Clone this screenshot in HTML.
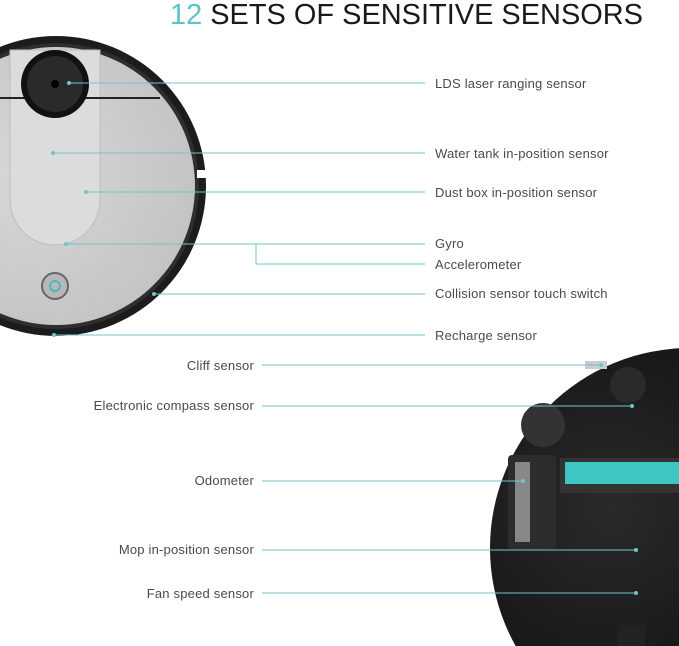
<!DOCTYPE html>
<html><head><meta charset="utf-8"><style>
html,body{margin:0;padding:0;background:#fff;width:679px;height:646px;overflow:hidden;}
svg{display:block;overflow:hidden}
text{font-family:"Liberation Sans",sans-serif;}
</style></head><body>
<svg width="679" height="646" viewBox="0 0 679 646" xmlns="http://www.w3.org/2000/svg">
<defs>
<radialGradient id="g1" cx="0.4" cy="0.45" r="0.6"><stop offset="0" stop-color="#d8d8d8"/><stop offset="1" stop-color="#c4c4c4"/></radialGradient>
<radialGradient id="g2" cx="0.3" cy="0.4" r="0.7"><stop offset="0" stop-color="#2a2a2a"/><stop offset="1" stop-color="#0c0c0c"/></radialGradient>
<clipPath id="c"><rect x="0" y="0" width="679" height="646"/></clipPath>
</defs>
<g clip-path="url(#c)">
<text x="170" y="24" font-size="29" textLength="473" lengthAdjust="spacingAndGlyphs" fill="#1a1a1a"><tspan fill="#5cc4c8">12</tspan> SETS OF SENSITIVE SENSORS</text>

<circle cx="56" cy="186" r="150" fill="#1c1c1c"/>
<circle cx="56" cy="186" r="143" fill="#2e2e2e"/>
<circle cx="56" cy="186" r="139" fill="url(#g1)"/>
<path d="M10 50 L100 50 L100 200 A45 45 0 0 1 10 200 Z" fill="#dcdcdc" stroke="#bdbdbd"/>
<line x1="0" y1="98" x2="160" y2="98" stroke="#222" stroke-width="2"/>
<circle cx="55" cy="84" r="34" fill="#111"/>
<circle cx="55" cy="84" r="28" fill="#2a2a2a"/>
<circle cx="55" cy="84" r="4" fill="#000"/>
<circle cx="55" cy="286" r="13" fill="#b8b8b8" stroke="#666" stroke-width="2"/>
<circle cx="55" cy="286" r="5" fill="none" stroke="#4ab8bc" stroke-width="2"/>
<rect x="197" y="170" width="12" height="8" fill="#fff"/>

<circle cx="690" cy="548" r="200" fill="url(#g2)"/>
<rect x="560" y="458" width="119" height="35" fill="#333"/>
<rect x="565" y="462" width="114" height="22" fill="#3fc6c2"/>
<rect x="508" y="455" width="48" height="95" rx="4" fill="#2c2c2c"/>
<rect x="515" y="462" width="15" height="80" fill="#888"/>
<circle cx="543" cy="425" r="22" fill="#333"/>
<circle cx="628" cy="385" r="18" fill="#2a2a2a"/>
<rect x="585" y="361" width="22" height="8" fill="#ccc"/>
<rect x="617" y="625" width="28" height="21" fill="#222"/>

<g stroke="#6fc6c9" stroke-width="1" fill="none">
<line x1="69" y1="83" x2="425" y2="83"/>
<line x1="53" y1="153" x2="425" y2="153"/>
<line x1="86" y1="192" x2="425" y2="192"/>
<line x1="66" y1="244" x2="425" y2="244"/>
<polyline points="256,244 256,264 425,264"/>
<line x1="154" y1="294" x2="425" y2="294"/>
<line x1="54" y1="335" x2="425" y2="335"/>
<line x1="262" y1="365" x2="601" y2="365"/>
<line x1="262" y1="406" x2="632" y2="406"/>
<line x1="262" y1="481" x2="523" y2="481"/>
<line x1="262" y1="550" x2="636" y2="550"/>
<line x1="262" y1="593" x2="636" y2="593"/>
</g>
<g fill="#6fc6c9">
<circle cx="69" cy="83" r="2"/><circle cx="53" cy="153" r="2"/><circle cx="86" cy="192" r="2"/>
<circle cx="66" cy="244" r="2"/><circle cx="154" cy="294" r="2"/><circle cx="54" cy="335" r="2"/>
<circle cx="601" cy="365" r="2"/><circle cx="632" cy="406" r="2"/><circle cx="523" cy="481" r="2"/>
<circle cx="636" cy="550" r="2"/><circle cx="636" cy="593" r="2"/>
</g>
<g font-size="13" fill="#4a4a4a" letter-spacing="0.2">
<text x="435" y="88">LDS laser ranging sensor</text>
<text x="435" y="158">Water tank in-position sensor</text>
<text x="435" y="197">Dust box in-position sensor</text>
<text x="435" y="248">Gyro</text>
<text x="435" y="269">Accelerometer</text>
<text x="435" y="298">Collision sensor touch switch</text>
<text x="435" y="340">Recharge sensor</text>
</g>
<g font-size="13" fill="#4a4a4a" text-anchor="end" letter-spacing="0.2">
<text x="254" y="370">Cliff sensor</text>
<text x="254" y="410">Electronic compass sensor</text>
<text x="254" y="485">Odometer</text>
<text x="254" y="554">Mop in-position sensor</text>
<text x="254" y="598">Fan speed sensor</text>
</g>
</g>
</svg>
</body></html>
